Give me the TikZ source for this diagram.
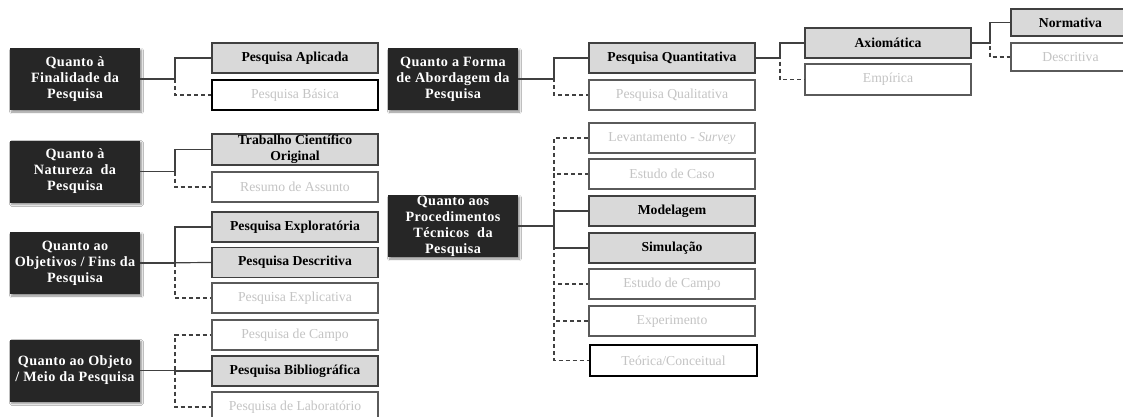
\documentclass[tikz,border=0pt]{standalone}
\usepackage{fontspec}
\setmainfont{Liberation Serif}
\usetikzlibrary{shadows.blur}
\definecolor{darkfill}{HTML}{262626}
\definecolor{greyfill}{HTML}{D9D9D9}
\definecolor{edgegrey}{HTML}{404040}
\definecolor{softedge}{HTML}{5A5A5A}
\definecolor{paletext}{HTML}{C4C4C4}
\tikzset{
  every node/.style={inner sep=0pt, align=center},
  headbox/.style={fill=darkfill, text=white, minimum width=130pt, minimum height=62pt,
    font=\fontsize{14.2}{16}\selectfont\bfseries\addfontfeatures{LetterSpace=3},
    blur shadow={shadow blur steps=6, shadow xshift=1.5pt, shadow yshift=-2pt, shadow opacity=45}},
  keybox/.style={fill=greyfill, draw=edgegrey, line width=1.3pt, minimum width=166pt,
    minimum height=30pt, font=\fontsize{13.7}{16}\selectfont\bfseries},
  altbox/.style={fill=white, draw=softedge, line width=1.1pt, minimum width=166pt,
    minimum height=30pt, text=paletext, font=\fontsize{13.7}{16}\selectfont},
  altboxk/.style={altbox, draw=black, line width=1.7pt},
  link/.style={draw=edgegrey, line width=1.2pt},
  dlink/.style={link, dash pattern=on 4pt off 3pt},
}
\begin{document}
\begin{tikzpicture}[x=1pt, y=-1pt]
\fill[white] (0,0) rectangle (1123,417);
\useasboundingbox (0,0) rectangle (1123,417);
\clip (0,0) rectangle (1123,417);

% bus positions of the branching connectors
\coordinate (busA) at (175,0);
\coordinate (busB) at (554,0);
\coordinate (busC) at (780,0);
\coordinate (busD) at (990,0);

% left column: category headings
\node[headbox] (fin)  at (75,79)    {Quanto à\\Finalidade da\\Pesquisa};
\node[headbox] (nat)  at (75,171.5) {Quanto à\\Natureza\ \ da\\Pesquisa};
\node[headbox] (obj)  at (75,263)   {Quanto ao\\Objetivos / Fins da\\Pesquisa};
\node[headbox] (meio) at (75,370.5) {Quanto ao Objeto\\/ Meio da Pesquisa};

% left column: options
\node[keybox]  (aplic)  at (295,58)    {Pesquisa Aplicada};
\node[altboxk] (basica) at (295,95)    {Pesquisa Básica};
\node[keybox, minimum height=31pt] (trab) at (295,149.5) {Trabalho Científico\\Original};
\node[altbox]  (resumo) at (295,187)   {Resumo de Assunto};
\node[keybox]  (explor) at (295,227)   {Pesquisa Exploratória};
\node[keybox]  (descr)  at (295,262.5) {Pesquisa Descritiva};
\node[altbox]  (explic) at (295,298)   {Pesquisa Explicativa};
\node[altbox]  (campo)  at (295,335)   {Pesquisa de Campo};
\node[keybox]  (biblio) at (295,371)   {Pesquisa Bibliográfica};
\node[altbox]  (labor)  at (295,407)   {Pesquisa de Laboratório};

% middle column: category headings
\node[headbox] (forma) at (453,79)  {Quanto a Forma\\de Abordagem da\\Pesquisa};
\node[headbox] (proc)  at (453,226) {Quanto aos\\Procedimentos\\Técnicos\ \ da\\Pesquisa};

% middle column: options
\node[keybox]  (quant)  at (672,58)    {Pesquisa Quantitativa};
\node[altbox]  (qual)   at (672,95)    {Pesquisa Qualitativa};
\node[altbox]  (lev)    at (672,138)   {Levantamento - \textit{Survey}};
\node[altbox]  (caso)   at (672,174)   {Estudo de Caso};
\node[keybox]  (model)  at (672,211)   {Modelagem};
\node[keybox]  (simul)  at (672,248)   {Simulação};
\node[altbox]  (ecampo) at (672,284)   {Estudo de Campo};
\node[altbox]  (exper)  at (672,321)   {Experimento};
\node[altboxk, minimum width=167pt, minimum height=31pt] (teor) at (673.5,360.5) {Teórica/Conceitual};

% right: sub-options of the quantitative approach
\node[keybox] (axio) at (888,43)   {Axiomática};
\node[altbox, minimum height=31pt] (empir) at (888,79.5) {Empírica};
\node[keybox, minimum width=119pt, minimum height=27pt] (norm)  at (1070.5,22.5) {Normativa};
\node[altbox, minimum width=119pt, minimum height=28pt] (descv) at (1070.5,57)   {Descritiva};

% connectors: dashed branches first, solid branches on top
\draw[dlink] (fin.east)  -- (fin.east -| busA)  |- (basica.west);
\draw[dlink] (nat.east)  -- (nat.east -| busA)  |- (resumo.west);
\draw[dlink] (obj.east)  -- (obj.east -| busA)  |- (explic.west);
\draw[dlink] (meio.east) -- (meio.east -| busA) |- (campo.west);
\draw[dlink] (meio.east) -- (meio.east -| busA) |- (labor.west);
\draw[dlink] (forma.east) -- (forma.east -| busB) |- (qual.west);
\draw[dlink] (proc.east) -- (proc.east -| busB) |- (lev.west);
\draw[dlink] (proc.east) -- (proc.east -| busB) |- (caso.west);
\draw[dlink] (proc.east) -- (proc.east -| busB) |- (ecampo.west);
\draw[dlink] (proc.east) -- (proc.east -| busB) |- (exper.west);
\draw[dlink] (proc.east) -- (proc.east -| busB) |- (teor.west);
\draw[dlink] (quant.east) -- (quant.east -| busC) |- (empir.west);
\draw[dlink] (axio.east) -- (axio.east -| busD) |- (descv.west);

\draw[link] (fin.east)  -- (fin.east -| busA)  |- (aplic.west);
\draw[link] (nat.east)  -- (nat.east -| busA)  |- (trab.west);
\draw[link] (obj.east)  -- (obj.east -| busA)  |- (explor.west);
\draw[link] (obj.east)  -- (descr.west);
\draw[link] (meio.east) -- (meio.east -| busA) |- (biblio.west);
\draw[link] (forma.east) -- (forma.east -| busB) |- (quant.west);
\draw[link] (proc.east) -- (proc.east -| busB) |- (model.west);
\draw[link] (proc.east) -- (proc.east -| busB) |- (simul.west);
\draw[link] (quant.east) -- (quant.east -| busC) |- (axio.west);
\draw[link] (axio.east) -- (axio.east -| busD) |- (norm.west);
\end{tikzpicture}
\end{document}
